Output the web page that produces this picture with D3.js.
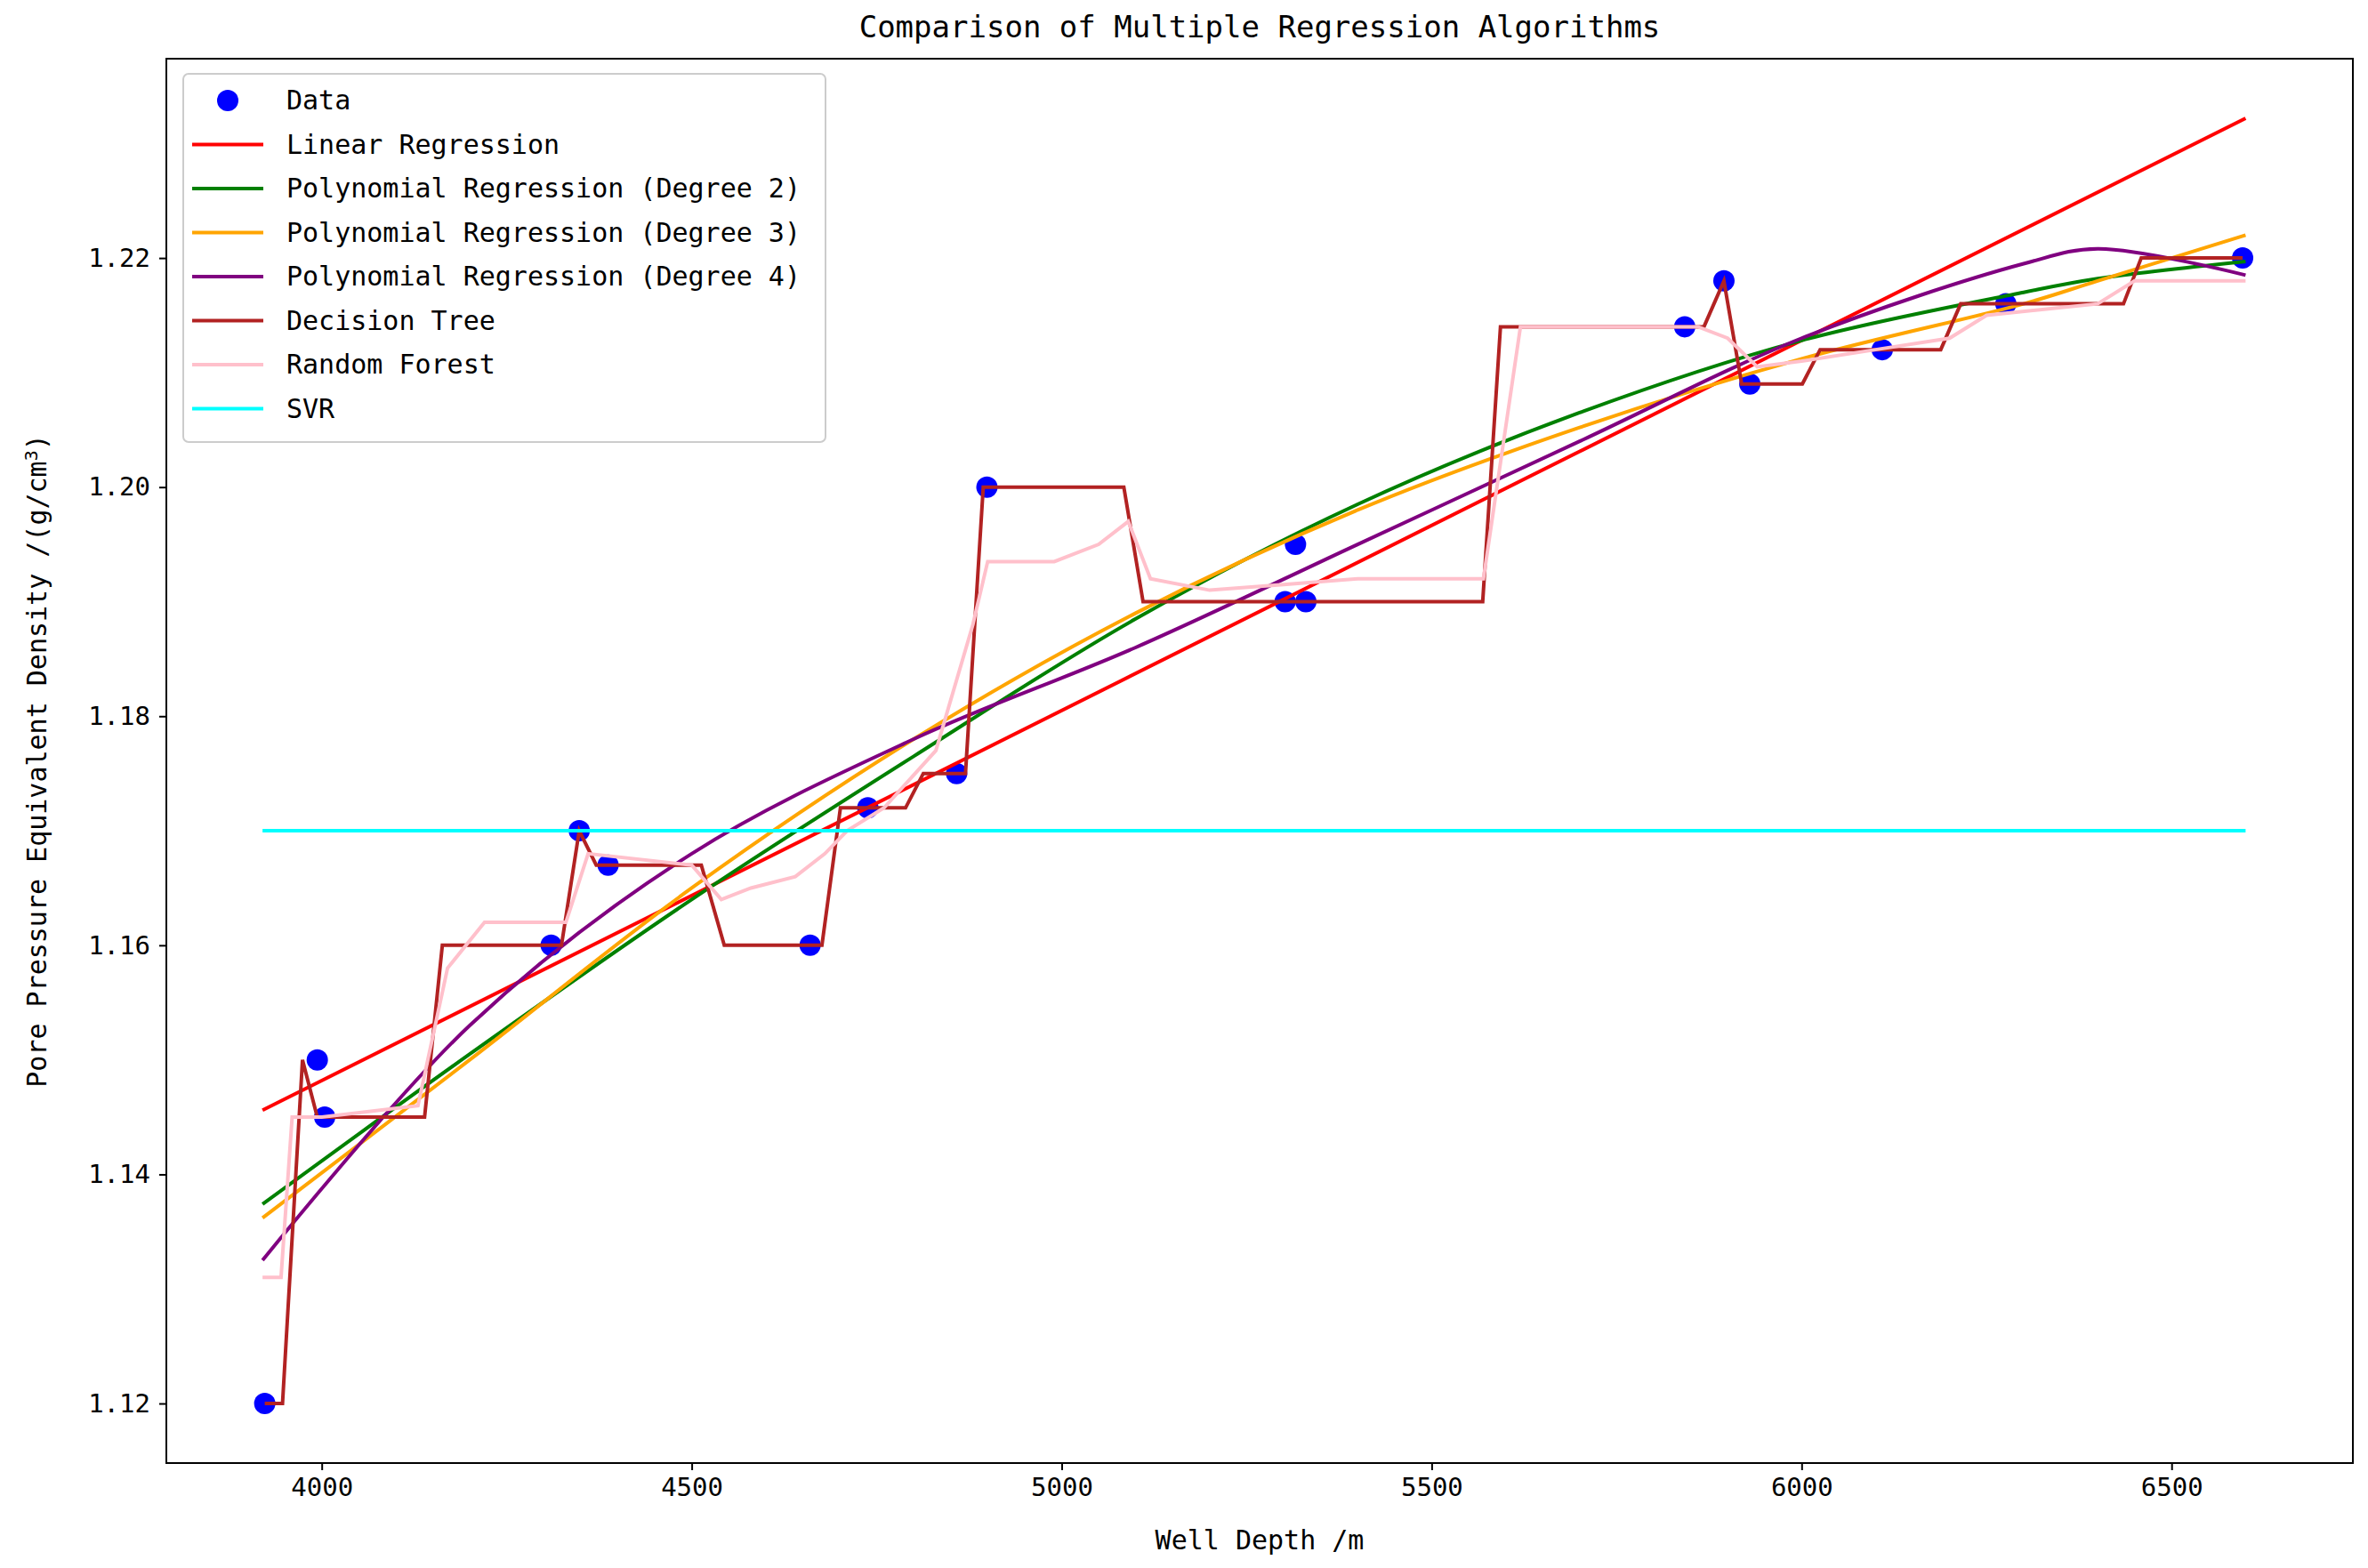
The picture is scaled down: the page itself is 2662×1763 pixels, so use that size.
<!DOCTYPE html>
<html>
<head>
<meta charset="utf-8">
<script src="https://cdn.jsdelivr.net/npm/d3@7"></script>
<style>
body { margin: 0; background: #fff; }
text { font-family: 'DejaVu Sans Mono', monospace; }
</style>
</head>
<body>
<script>
'use strict';

const DATA_X = [3923, 3994, 4004, 4310, 4348, 4387, 4660, 4738, 4858, 4899, 5302, 5316, 5330, 5842, 5895, 5930, 6109, 6276, 6596];
const DATA_Y = [1.120, 1.150, 1.145, 1.160, 1.170, 1.167, 1.160, 1.172, 1.175, 1.200, 1.190, 1.195, 1.190, 1.214, 1.218, 1.209, 1.212, 1.216, 1.220];

const LINEAR_X = [3920, 6600];
const LINEAR_Y = [1.1456, 1.2322];

const POLY_X = [3920, 4200, 4500, 4800, 5100, 5400, 5700, 6000, 6300, 6400, 6600];
const POLY2_Y = [1.1374, 1.1505, 1.1640, 1.1765, 1.1885, 1.1985, 1.2065, 1.2128, 1.2170, 1.2182, 1.2197];
const POLY3_Y = [1.1362, 1.1500, 1.1650, 1.1780, 1.1890, 1.1980, 1.2052, 1.2112, 1.2160, 1.2180, 1.2220];
const POLY4_Y = [1.1325, 1.1530, 1.1680, 1.1780, 1.1860, 1.1950, 1.2040, 1.2130, 1.2195, 1.2208, 1.2185];

const TREE_X = [3923, 3947, 3974, 3994, 4139, 4163, 4324, 4348, 4371, 4513, 4544, 4676, 4701, 4789, 4813, 4870, 4894, 5084, 5110, 5569, 5593, 5868, 5895, 5919, 6001, 6025, 6188, 6215, 6435, 6459, 6596];
const TREE_Y = [1.120, 1.120, 1.150, 1.145, 1.145, 1.160, 1.160, 1.170, 1.167, 1.167, 1.160, 1.160, 1.172, 1.172, 1.175, 1.175, 1.200, 1.200, 1.190, 1.190, 1.214, 1.214, 1.218, 1.209, 1.209, 1.212, 1.212, 1.216, 1.216, 1.220, 1.220];

const FOREST_X = [3920, 3945, 3960, 4000, 4130, 4170, 4220, 4330, 4360, 4500, 4540, 4580, 4640, 4680, 4710, 4760, 4830, 4880, 4900, 4990, 5050, 5090, 5120, 5200, 5300, 5400, 5570, 5620, 5860, 5900, 5940, 6000, 6100, 6200, 6250, 6400, 6450, 6600];
const FOREST_Y = [1.131, 1.131, 1.145, 1.145, 1.146, 1.158, 1.162, 1.162, 1.168, 1.167, 1.164, 1.165, 1.166, 1.168, 1.170, 1.172, 1.177, 1.188, 1.1935, 1.1935, 1.195, 1.197, 1.192, 1.191, 1.1915, 1.192, 1.192, 1.214, 1.214, 1.213, 1.2105, 1.211, 1.212, 1.213, 1.215, 1.216, 1.218, 1.218];

const SVR_X = [3920, 6600];
const SVR_Y = [1.170, 1.170];

const X_TICKS = [4000, 4500, 5000, 5500, 6000, 6500];
const Y_TICKS = [1.12, 1.14, 1.16, 1.18, 1.20, 1.22];

const LEGEND_NAMES = ['Data', 'Linear Regression', 'Polynomial Regression (Degree 2)', 'Polynomial Regression (Degree 3)',
    'Polynomial Regression (Degree 4)', 'Decision Tree', 'Random Forest', 'SVR'];

const WIDTH = 2662;
const HEIGHT = 1763;
const MARGIN = {left: 187, right: 2645, top: 66, bottom: 1645};

function main() {
    const svg = d3.select('body').append('svg')
            .attr('width', WIDTH)
            .attr('height', HEIGHT);

    const x = d3.scaleLinear().domain([3790, 6745]).range([MARGIN.left, MARGIN.right]);
    const y = d3.scaleLinear().domain([1.1148, 1.2374]).range([MARGIN.bottom, MARGIN.top]);

    const series = [
        {xs: LINEAR_X, ys: LINEAR_Y, color: 'red'},
        {xs: POLY_X, ys: POLY2_Y, color: 'green', curve: true},
        {xs: POLY_X, ys: POLY3_Y, color: 'orange', curve: true},
        {xs: POLY_X, ys: POLY4_Y, color: 'purple', curve: true},
        {xs: TREE_X, ys: TREE_Y, color: '#b22222'},
        {xs: FOREST_X, ys: FOREST_Y, color: 'pink'},
        {xs: SVR_X, ys: SVR_Y, color: 'cyan'},
    ];

    // Points first, lines on top as in the original.
    svg.append('g').selectAll('circle')
            .data(DATA_X.map((v, i) => [v, DATA_Y[i]]))
            .join('circle')
            .attr('cx', d => x(d[0]))
            .attr('cy', d => y(d[1]))
            .attr('r', 12)
            .attr('fill', 'blue');

    series.forEach(function(s) {
        const line = d3.line()
                .x(d => x(d[0]))
                .y(d => y(d[1]))
                .curve(s.curve ? d3.curveCatmullRom : d3.curveLinear);
        svg.append('path')
                .attr('d', line(s.xs.map((v, i) => [v, s.ys[i]])))
                .attr('fill', 'none')
                .attr('stroke', s.color)
                .attr('stroke-width', 4);
    });

    svg.append('rect')
            .attr('x', MARGIN.left).attr('y', MARGIN.top)
            .attr('width', MARGIN.right - MARGIN.left)
            .attr('height', MARGIN.bottom - MARGIN.top)
            .attr('fill', 'none').attr('stroke', '#000').attr('stroke-width', 2);

    const xAxis = svg.append('g')
            .attr('transform', `translate(0,${MARGIN.bottom})`)
            .call(d3.axisBottom(x).tickValues(X_TICKS).tickSize(8).tickPadding(8).tickFormat(d3.format('d')));
    const yAxis = svg.append('g')
            .attr('transform', `translate(${MARGIN.left},0)`)
            .call(d3.axisLeft(y).tickValues(Y_TICKS).tickSize(8).tickPadding(10).tickFormat(d3.format('.2f')));
    [xAxis, yAxis].forEach(function(a) {
        a.select('.domain').remove();
        a.selectAll('line').attr('stroke-width', 2);
        a.selectAll('text').style('font-size', '29px').style('font-family', "'DejaVu Sans Mono', monospace");
    });

    svg.append('text')
            .attr('x', (MARGIN.left + MARGIN.right) / 2).attr('y', 42)
            .attr('text-anchor', 'middle').style('font-size', '34px')
            .text('Comparison of Multiple Regression Algorithms');
    svg.append('text')
            .attr('x', (MARGIN.left + MARGIN.right) / 2).attr('y', 1742)
            .attr('text-anchor', 'middle').style('font-size', '30px')
            .text('Well Depth /m');
    const yl = svg.append('text')
            .attr('transform', `translate(52,${(MARGIN.top + MARGIN.bottom) / 2}) rotate(-90)`)
            .attr('text-anchor', 'middle').style('font-size', '30px');
    yl.append('tspan').text('Pore Pressure Equivalent Density /(g/cm');
    yl.append('tspan').attr('dy', -10).style('font-size', '20px').text('3');
    yl.append('tspan').attr('dy', 10).text(')');

    // Legend
    const legend = svg.append('g').attr('transform', 'translate(206,83)');
    legend.append('rect')
            .attr('width', 722).attr('height', 414).attr('rx', 6)
            .attr('fill', '#fff').attr('fill-opacity', 0.8)
            .attr('stroke', '#ccc').attr('stroke-width', 2);
    LEGEND_NAMES.forEach(function(name, i) {
        const row = legend.append('g').attr('transform', `translate(0,${30 + i * 49.5})`);
        if (i === 0) {
            row.append('circle').attr('cx', 50).attr('cy', 0).attr('r', 12).attr('fill', 'blue');
        } else {
            row.append('line').attr('x1', 10).attr('x2', 90).attr('y1', 0).attr('y2', 0)
                    .attr('stroke', series[i - 1].color).attr('stroke-width', 4);
        }
        row.append('text').attr('x', 116).attr('y', 10).style('font-size', '30px').text(name);
    });
}

document.addEventListener('DOMContentLoaded', main);
</script>
</body>
</html>
